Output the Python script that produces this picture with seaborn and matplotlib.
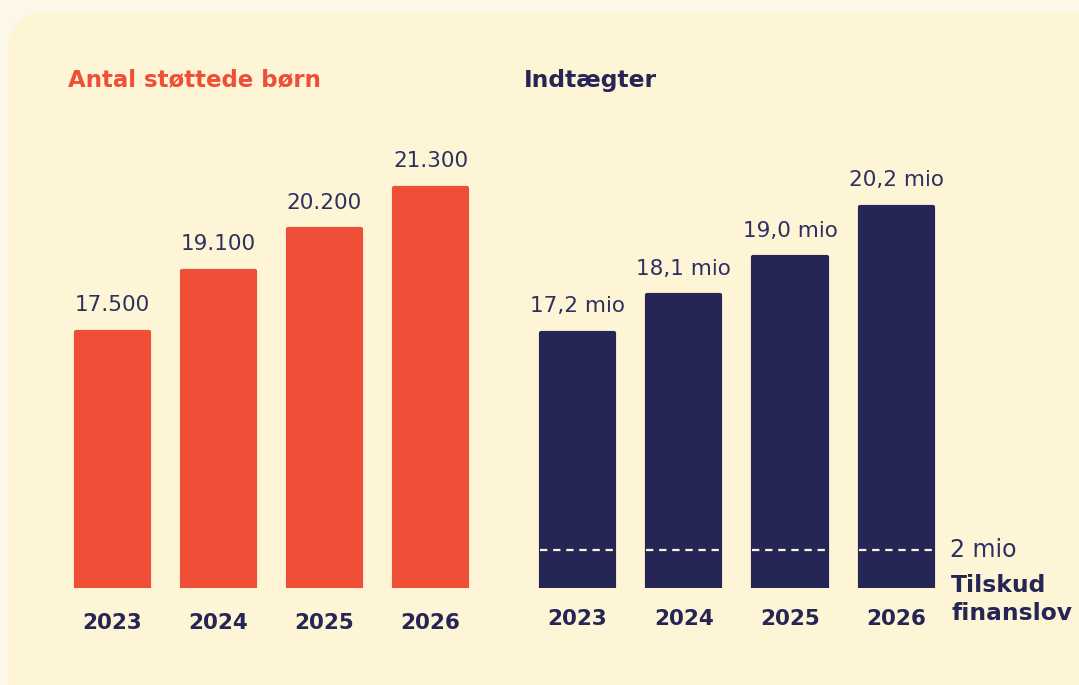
import matplotlib
matplotlib.use("Agg")
import matplotlib.pyplot as plt
import seaborn as sns
import pandas as pd
from matplotlib.patches import FancyBboxPatch

# data
years = ["2023", "2024", "2025", "2026"]
children = [17500, 19100, 20200, 21300]
children_labels = ["17.500", "19.100", "20.200", "21.300"]
income = [17.2, 18.1, 19.0, 20.2]
income_labels = ["17,2 mio", "18,1 mio", "19,0 mio", "20,2 mio"]
tilskud = 2
tilskud_label = "2 mio"

RED = "#ef4f36"
NAVY = "#252656"
LABEL = "#2d3060"
BG = "#fdf7e9"
PANEL = "#fef5d6"

sns.set_theme(style="white")
plt.rcParams["font.family"] = ["DejaVu Sans"]

W, H = 1079, 685
fig = plt.figure(figsize=(W / 100, H / 100), dpi=100)
fig.patch.set_facecolor(BG)

# rounded panel on a background axes
bg = fig.add_axes([0, 0, 1, 1], zorder=-10)
bg.set_xlim(0, W)
bg.set_ylim(H, 0)
bg.axis("off")
bg.add_patch(FancyBboxPatch((8, 12), 1120, H + 40,
                            boxstyle="round,pad=0,rounding_size=38",
                            facecolor=PANEL, edgecolor="none"))


def px_axes(x0, x1, ytop, ybot):
    return fig.add_axes([x0 / W, (H - ybot) / H, (x1 - x0) / W, (ybot - ytop) / H])


def style(ax, pad):
    ax.set_facecolor("none")
    for s in ax.spines.values():
        s.set_visible(False)
    ax.set_xlabel("")
    ax.set_ylabel("")
    ax.set_yticks([])
    ax.set_xlim(-0.5, len(years) - 0.5)
    ax.tick_params(axis="x", length=0, pad=pad)
    for t in ax.get_xticklabels():
        t.set_fontsize(15.5)
        t.set_fontweight("heavy")
        t.set_color(NAVY)


def round_bars(ax, color):
    for p in ax.patches:
        p.set_edgecolor(color)
        p.set_linewidth(3)
        p.set_joinstyle("round")


# left chart: children
df1 = pd.DataFrame({"year": years, "n": children})
ax1 = px_axes(59.5, 483.5, 150, 588)
sns.barplot(data=df1, x="year", y="n", color=RED, saturation=1, width=0.69, ax=ax1)
round_bars(ax1, RED)
ax1.set_ylim(10740, 10740 + 438 / 0.0379)
style(ax1, 18)
for i, (v, lab) in enumerate(zip(children, children_labels)):
    ax1.annotate(lab, (i, v), xytext=(0, 12), textcoords="offset points",
                 ha="center", va="bottom", fontsize=15.5, color=LABEL)

# right chart: income
df2 = pd.DataFrame({"year": years, "mio": income})
ax2 = px_axes(524.3, 949.5, 150, 588)
sns.barplot(data=df2, x="year", y="mio", color=NAVY, saturation=1, width=0.69, ax=ax2)
round_bars(ax2, NAVY)
y0 = 11.13
ax2.set_ylim(y0, y0 + 438 / 42)
for i, (v, lab) in enumerate(zip(income, income_labels)):
    ax2.annotate(lab, (i, v), xytext=(0, 12), textcoords="offset points",
                 ha="center", va="bottom", fontsize=15.5, color=LABEL)
# tilskud marker drawn as a dashed line inside each bar
tilskud_y = y0 + tilskud * 0.45
for i in range(len(years)):
    ax2.plot([i - 0.355, i + 0.355], [tilskud_y, tilskud_y], color="#fdf3da",
             lw=1.6, dashes=(3.3, 2.6), zorder=5)
style(ax2, 15)
ax2.annotate(tilskud_label, (3.45, tilskud_y), xytext=(4, 0), textcoords="offset points",
             ha="left", va="center", fontsize=17, color=LABEL, annotation_clip=False)
fig.text(951 / W, 1 - 585 / H, "Tilskud", ha="left", va="center",
         fontsize=16.8, fontweight="heavy", color=NAVY)
fig.text(951 / W, 1 - 613 / H, "finanslov", ha="left", va="center",
         fontsize=16.8, fontweight="heavy", color=NAVY)

# titles
fig.text(68 / W, 1 - 80 / H, "Antal støttede børn", ha="left", va="center",
         fontsize=16.5, fontweight="heavy", color=RED)
fig.text(524 / W, 1 - 80 / H, "Indtægter", ha="left", va="center",
         fontsize=16.8, fontweight="heavy", color=NAVY)

fig.savefig("out.png", dpi=100, facecolor=BG)
